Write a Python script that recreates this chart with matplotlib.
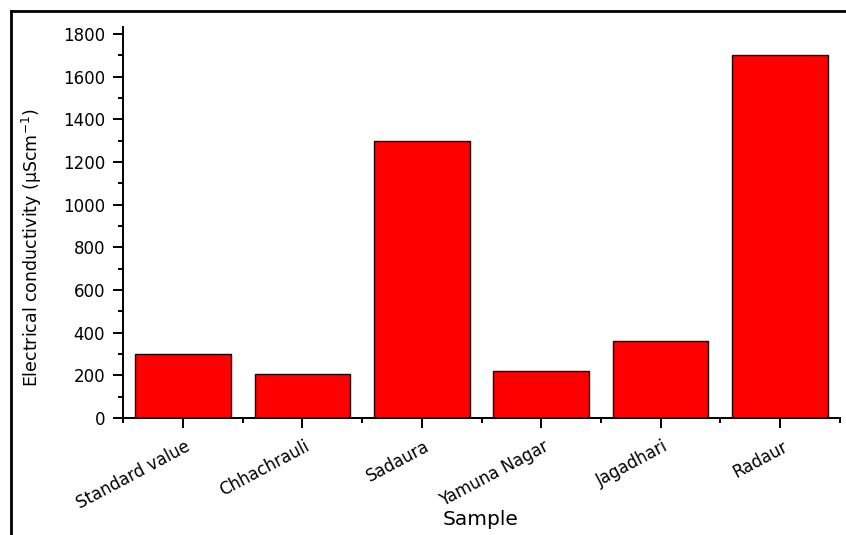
import matplotlib
matplotlib.use("Agg")
import matplotlib.pyplot as plt
from matplotlib.lines import Line2D
from matplotlib.ticker import MultipleLocator, FixedLocator
import matplotlib.transforms as mtransforms

plt.rcParams['font.family'] = ['DejaVu Sans']
plt.rcParams['mathtext.fontset'] = 'dejavusans'

categories = ["Standard value", "Chhachrauli", "Sadaura", "Yamuna Nagar", "Jagadhari", "Radaur"]
values = [300, 205, 1300, 220, 360, 1700]

W, H = 846, 535
fig = plt.figure(figsize=(W/100, H/100), dpi=100)
ax_l, ax_r, ax_b, ax_t = 123.3, 839.7, 418, 26.6
ax = fig.add_axes([ax_l/W, 1-ax_b/H, (ax_r-ax_l)/W, (ax_b-ax_t)/H])

x = list(range(len(categories)))
ax.bar(x, values, width=0.8, color='#ff0000', edgecolor='#1a0000', linewidth=1.0)

ax.set_xlim(-0.5, len(categories)-0.5)
ax.set_ylim(0, 1835)
for s in ['top', 'right']:
    ax.spines[s].set_visible(False)
for s in ['left', 'bottom']:
    ax.spines[s].set_linewidth(1.4)

ax.yaxis.set_major_locator(MultipleLocator(200))
ax.yaxis.set_minor_locator(MultipleLocator(100))
ax.set_xticks(x)
ax.xaxis.set_minor_locator(FixedLocator([i+0.5 for i in range(-1, len(categories))]))
ax.tick_params(axis='both', which='major', direction='out', length=7, width=1.4, labelsize=12)
ax.tick_params(axis='both', which='minor', direction='out', length=3.5, width=1.4)
ax.tick_params(axis='y', pad=6)
ax.tick_params(axis='x', pad=7)

ax.set_xticklabels(categories, rotation=28, ha='right', va='top', rotation_mode='anchor', fontsize=12)
offset = mtransforms.ScaledTranslation(0.02, 0, fig.dpi_scale_trans)
for lbl in ax.get_xticklabels():
    lbl.set_transform(lbl.get_transform() + offset)

ax.set_ylabel("Electrical conductivity (μScm$^{-1}$)", fontsize=12.5)
ax.yaxis.set_label_coords((44-ax_l)/(ax_r-ax_l), (ax_b-248)/(ax_b-ax_t))
ax.set_xlabel("Sample", fontsize=14.5)
ax.xaxis.set_label_coords((481-ax_l)/(ax_r-ax_l), -(510-ax_b)/(ax_b-ax_t))

# figure frame lines (top and left)
fig.add_artist(Line2D([11/W, 1.0], [1-11/H, 1-11/H], color='black', linewidth=2, transform=fig.transFigure))
fig.add_artist(Line2D([11/W, 11/W], [0, 1-11/H], color='black', linewidth=2, transform=fig.transFigure))

fig.savefig("out.png", dpi=100)
